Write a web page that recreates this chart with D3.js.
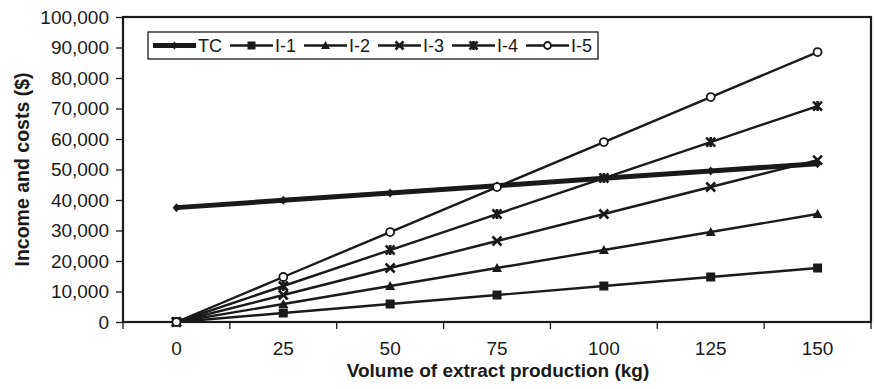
<!DOCTYPE html>
<html>
<head>
<meta charset="utf-8">
<script src="https://cdn.jsdelivr.net/npm/d3@7"></script>
<style>
  html, body { margin: 0; padding: 0; background: #fff; }
  svg { display: block; font-family: "Liberation Sans", Arial, sans-serif; }
</style>
</head>
<body>
<svg id="chart" width="874" height="389"></svg>
<script>
// x categories (kg of extract)
const volumes = ["0", "25", "50", "75", "100", "125", "150"];
const yTicks = [0, 10000, 20000, 30000, 40000, 50000, 60000, 70000, 80000, 90000, 100000];

// series
const tc = [37500, 39900, 42300, 44700, 47100, 49500, 51900];
const i1 = [0, 2950, 5900, 8850, 11800, 14750, 17700];
const i2 = [0, 5900, 11800, 17700, 23600, 29500, 35400];
const i3 = [0, 8850, 17700, 26550, 35400, 44250, 53100];
const i4 = [0, 11800, 23600, 35400, 47200, 59000, 70800];
const i5 = [0, 14750, 29500, 44250, 59000, 73750, 88500];

const seriesNames = ["TC", "I-1", "I-2", "I-3", "I-4", "I-5"];

const ink = "#1a1a1a";
const font = "'Liberation Sans', Arial, sans-serif";

// small custom marker shapes (size = full width in px)
const sq = { draw(c, s) { const r = s / 2; c.rect(-r, -r, s, s); } };
const dia = { draw(c, s) { const r = s / 2; c.moveTo(0, -r); c.lineTo(r * 0.85, 0); c.lineTo(0, r); c.lineTo(-r * 0.85, 0); c.closePath(); } };
const tri = { draw(c, s) { const r = s / 2; c.moveTo(0, -r); c.lineTo(r, r * 0.8); c.lineTo(-r, r * 0.8); c.closePath(); } };
const times = { draw(c, s) { const r = s / 2; c.moveTo(-r, -r); c.lineTo(r, r); c.moveTo(-r, r); c.lineTo(r, -r); } };
const aster = { draw(c, s) { const r = s / 2; c.moveTo(-r, -r); c.lineTo(r, r); c.moveTo(-r, r); c.lineTo(r, -r); c.moveTo(0, -r * 1.1); c.lineTo(0, r * 1.1); } };
const circ = { draw(c, s) { const r = s / 2; c.moveTo(r, 0); c.arc(0, 0, r, 0, 2 * Math.PI); } };

const series = [
  { name: seriesNames[0], values: tc, sym: dia, size: 9, fill: ink, width: 5, stroke: 0 },
  { name: seriesNames[1], values: i1, sym: sq, size: 9, fill: ink, width: 2.4, stroke: 0 },
  { name: seriesNames[2], values: i2, sym: tri, size: 10, fill: ink, width: 2.4, stroke: 0 },
  { name: seriesNames[3], values: i3, sym: times, size: 9, fill: "none", width: 2.4, stroke: 2.6 },
  { name: seriesNames[4], values: i4, sym: aster, size: 9, fill: "none", width: 2.4, stroke: 2.6 },
  { name: seriesNames[5], values: i5, sym: circ, size: 8, fill: "#fff", width: 2.4, stroke: 1.8 },
];

const margin = { top: 17, right: 3, bottom: 67, left: 123 };
const width = 874, height = 389;
const svg = d3.select("#chart");

const x = d3.scaleBand().domain(volumes).range([margin.left, width - margin.right]).padding(0);
const y = d3.scaleLinear().domain([0, 100000]).range([height - margin.bottom, margin.top]);
const cx = (d) => x(d) + x.bandwidth() / 2;

// y axis
const yAxis = d3.axisLeft(y).tickValues(yTicks).tickFormat(d3.format(",")).tickSize(7).tickPadding(7).tickSizeOuter(0);
svg.append("g").attr("transform", `translate(${margin.left},0)`).call(yAxis)
  .attr("font-size", 19).attr("font-family", font)
  .call((g) => g.select(".domain").remove())
  .call((g) => g.selectAll("line").attr("stroke", ink).attr("stroke-width", 1.3))
  .call((g) => g.selectAll("text").attr("fill", ink));

// x axis: labels centred, ticks at band edges
const xAxis = d3.axisBottom(x).tickSize(0).tickPadding(20).tickSizeOuter(0);
const xg = svg.append("g").attr("transform", `translate(0,${y(0)})`).call(xAxis)
  .attr("font-size", 19).attr("font-family", font);
xg.select(".domain").remove();
xg.selectAll(".tick line").remove();
xg.selectAll("text").attr("fill", ink);
const edges = d3.range(volumes.length + 1).map((i) => x.range()[0] + i * x.step());
xg.selectAll(".edge").data(edges).join("line").attr("class", "edge")
  .attr("x1", (d) => d).attr("x2", (d) => d).attr("y1", 0).attr("y2", 7)
  .attr("stroke", ink).attr("stroke-width", 1.3);

// plot frame
svg.append("rect")
  .attr("x", margin.left).attr("y", margin.top)
  .attr("width", width - margin.left - margin.right)
  .attr("height", y(0) - margin.top)
  .attr("fill", "none").attr("stroke", ink).attr("stroke-width", 2.2);

// axis titles
svg.append("text")
  .attr("x", 498).attr("y", 377)
  .attr("text-anchor", "middle").attr("font-weight", "bold").attr("font-size", 19).attr("fill", ink)
  .text("Volume of extract production (kg)");
svg.append("text")
  .attr("transform", `translate(29,${(margin.top + y(0)) / 2}) rotate(-90)`)
  .attr("text-anchor", "middle").attr("font-weight", "bold").attr("font-size", 19.5).attr("fill", ink)
  .text("Income and costs ($)");

// lines + markers
const line = d3.line().x((d, i) => cx(volumes[i])).y((d) => y(d));
const sg = svg.selectAll(".series").data(series).join("g").attr("class", "series");
sg.append("path")
  .attr("d", (d) => line(d.values))
  .attr("fill", "none").attr("stroke", ink).attr("stroke-width", (d) => d.width)
  .attr("stroke-linejoin", "round");
sg.each(function (s) {
  d3.select(this).selectAll("path.mk").data(s.values).join("path").attr("class", "mk")
    .attr("transform", (d, i) => `translate(${cx(volumes[i])},${y(d)})`)
    .attr("d", d3.symbol(s.sym, s.size))
    .attr("fill", s.fill)
    .attr("stroke", s.stroke ? ink : "none")
    .attr("stroke-width", s.stroke);
});

// legend
const lg = svg.append("g").attr("transform", "translate(148,32)");
lg.append("rect").attr("width", 450).attr("height", 27)
  .attr("fill", "#fff").attr("stroke", ink).attr("stroke-width", 1.3);
let lx = 5;
series.forEach((s) => {
  const g = lg.append("g").attr("transform", `translate(${lx},13.5)`);
  g.append("line").attr("x1", 0).attr("x2", 43).attr("stroke", ink).attr("stroke-width", s.width);
  g.append("path").attr("transform", "translate(21.5,0)").attr("d", d3.symbol(s.sym, s.size - 1))
    .attr("fill", s.fill).attr("stroke", s.stroke ? ink : "none").attr("stroke-width", s.stroke);
  const t = g.append("text").attr("x", 45).attr("y", 6.5).attr("font-size", 18).attr("fill", ink).text(s.name);
  lx += 45 + t.node().getComputedTextLength() + 8;
});
</script>
</body>
</html>
